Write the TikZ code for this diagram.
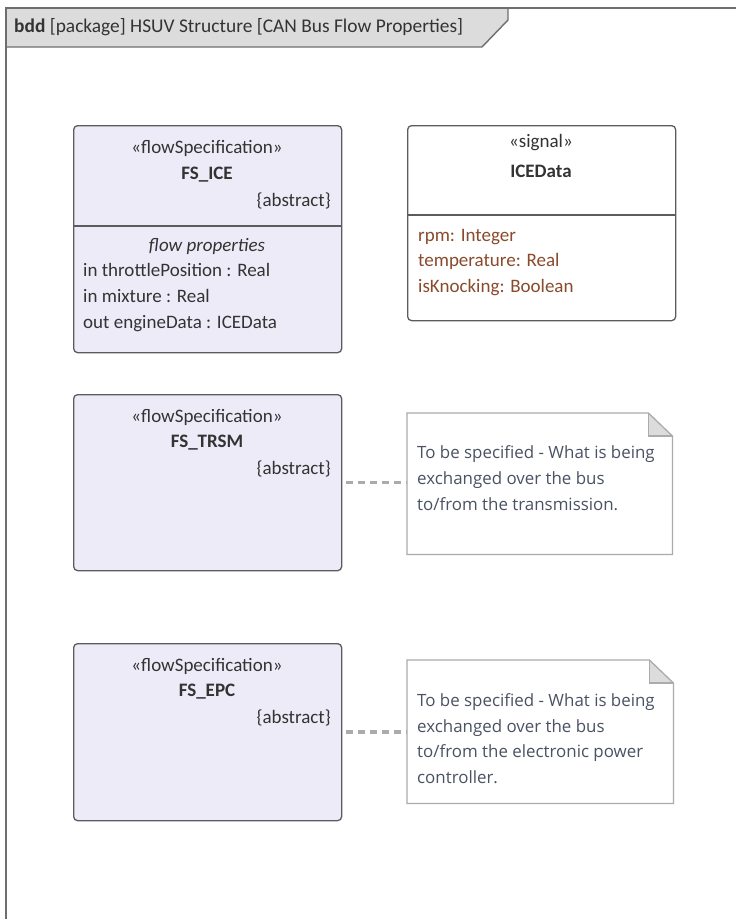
\documentclass[tikz,border=0pt]{standalone}
\usepackage{fontspec}
\setmainfont{Carlito}
\newfontfamily\notefont{Open Sans}
\usetikzlibrary{positioning}
\definecolor{hsuvline}{HTML}{5C5C5C}
\definecolor{hsuvfill}{HTML}{EEEBF8}
\definecolor{hsuvtext}{HTML}{333333}
\definecolor{hsuvattr}{HTML}{8A4A2C}
\definecolor{hsuvnote}{HTML}{4A5263}
\definecolor{hsuvgray}{HTML}{ABABAB}
\definecolor{hsuvtab}{HTML}{DCDCDC}
\definecolor{hsuvframe}{HTML}{6E6E6E}
\tikzset{
  blk/.style={draw=hsuvline,fill=hsuvfill,rounded corners=4pt,line width=1.3pt,minimum width=268pt,inner sep=0pt,anchor=north west},
  sigblk/.style={blk,fill=white},
  notebox/.style={inner sep=0pt,anchor=north west},
  lbl/.style={font=\fontsize{19}{22}\selectfont,text=hsuvtext,inner sep=0pt,text height=11pt,text depth=0pt},
  attr/.style={lbl,anchor=west},
  attrsig/.style={attr,text=hsuvattr},
  notetxt/.style={lbl,font=\notefont\fontsize{16.9}{20}\selectfont,anchor=west,text=hsuvnote,text height=11.5pt},
  noteline/.style={draw=hsuvgray,line width=1.3pt},
  anchorline/.style={draw=hsuvgray,line width=3.4pt,dash pattern=on 7pt off 5pt,shorten <=4pt},
}

\begin{document}
\begin{tikzpicture}[x=1pt,y=-1pt]
  \useasboundingbox (0,0) rectangle (736,919);
  % frame and heading tab
  \fill[hsuvtab] (6,8) -- (508,8) -- (508,20) -- (482,47) -- (6,47) -- cycle;
  \draw[hsuvframe,line width=1.4pt] (508,8) -- (508,20) -- (482,47) -- (6,47);
  \draw[hsuvframe,line width=2pt] (740,8) -- (6,8) -- (6,925);
  \node[lbl,anchor=west,font=\fontsize{19.4}{22}\selectfont] (title) at (14,27) {\textbf{bdd} [package] HSUV Structure [CAN Bus Flow Properties]};

  % FS_ICE
  \node[blk,minimum height=227pt] (ice) at (73,125) {};
  \draw[hsuvline,line width=1.3pt] (73,226) -- (341,226);
  \node[lbl] (iceste) at (207,148) {«flowSpecification»};
  \node[lbl,font=\fontsize{19}{22}\bfseries] (icename) at (207,174) {FS\_ICE};
  \node[lbl,anchor=east] (iceabs) at (331,201) {\{abstract\}};
  \node[lbl] (icecmp) at (207,246) {\itshape flow properties};
  \node[attr] (icep1) at (83,271) {in throttlePosition : Real};
  \node[attr] (icep2) at (83,297) {in mixture : Real};
  \node[attr] (icep3) at (83,323) {out engineData : ICEData};

  % ICEData
  \node[sigblk,minimum height=195pt] (icedata) at (407,125) {};
  \draw[hsuvline,line width=1.3pt] (407,215) -- (675,215);
  \node[lbl] (sigste) at (541,142) {«signal»};
  \node[lbl,font=\fontsize{19}{22}\bfseries] (signame) at (541,172) {ICEData};
  \node[attrsig] (sigp1) at (418,236) {rpm: Integer};
  \node[attrsig] (sigp2) at (418,261) {temperature: Real};
  \node[attrsig] (sigp3) at (418,287) {isKnocking: Boolean};

  % FS_TRSM
  \node[blk,minimum height=176pt] (trsm) at (73,394) {};
  \node[lbl] (trsmste) at (207,417) {«flowSpecification»};
  \node[lbl,font=\fontsize{19}{22}\bfseries] (trsmname) at (207,442) {FS\_TRSM};
  \node[lbl,anchor=east] (trsmabs) at (331,469) {\{abstract\}};

  % note for FS_TRSM
  \node[notebox,minimum width=265pt,minimum height=141pt] (note1) at (407,413) {};
  \fill[white] (note1.north west) -- ([xshift=-24pt]note1.north east) -- ([yshift=-23pt]note1.north east) -- (note1.south east) -- (note1.south west) -- cycle;
  \fill[hsuvtab] ([xshift=-24pt]note1.north east) -- ([xshift=-24pt,yshift=-23pt]note1.north east) -- ([yshift=-23pt]note1.north east) -- cycle;
  \draw[noteline] (note1.north west) -- ([xshift=-24pt]note1.north east) -- ([yshift=-23pt]note1.north east) -- (note1.south east) -- (note1.south west) -- cycle;
  \draw[noteline] ([xshift=-24pt]note1.north east) -- ([xshift=-24pt,yshift=-23pt]note1.north east) -- ([yshift=-23pt]note1.north east);
  \node[notetxt] (note1a) at (417,453) {To be specified - What is being};
  \node[notetxt] (note1b) at (417,479) {exchanged over the bus};
  \node[notetxt] (note1c) at (417,505) {to/from the transmission.};
  \draw[anchorline] (trsm.east) -- (trsm.east -| note1.west);

  % FS_EPC
  \node[blk,minimum height=177pt] (epc) at (73,643) {};
  \node[lbl] (epcste) at (207,666) {«flowSpecification»};
  \node[lbl,font=\fontsize{19}{22}\bfseries] (epcname) at (207,691) {FS\_EPC};
  \node[lbl,anchor=east] (epcabs) at (331,718) {\{abstract\}};

  % note for FS_EPC
  \node[notebox,minimum width=266pt,minimum height=143pt] (note2) at (407,660) {};
  \fill[white] (note2.north west) -- ([xshift=-24pt]note2.north east) -- ([yshift=-23pt]note2.north east) -- (note2.south east) -- (note2.south west) -- cycle;
  \fill[hsuvtab] ([xshift=-24pt]note2.north east) -- ([xshift=-24pt,yshift=-23pt]note2.north east) -- ([yshift=-23pt]note2.north east) -- cycle;
  \draw[noteline] (note2.north west) -- ([xshift=-24pt]note2.north east) -- ([yshift=-23pt]note2.north east) -- (note2.south east) -- (note2.south west) -- cycle;
  \draw[noteline] ([xshift=-24pt]note2.north east) -- ([xshift=-24pt,yshift=-23pt]note2.north east) -- ([yshift=-23pt]note2.north east);
  \node[notetxt] (note2a) at (417,701) {To be specified - What is being};
  \node[notetxt] (note2b) at (417,727) {exchanged over the bus};
  \node[notetxt] (note2c) at (417,752) {to/from the electronic power};
  \node[notetxt] (note2d) at (417,778) {controller.};
  \draw[anchorline] (epc.east) -- (epc.east -| note2.west);
\end{tikzpicture}
\end{document}
